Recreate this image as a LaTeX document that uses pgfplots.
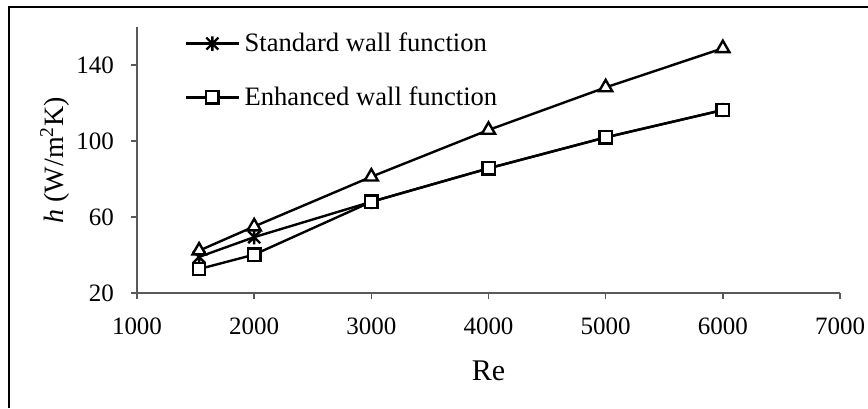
\documentclass[border=0pt]{standalone}
\usepackage{fontspec}
\setmainfont{Liberation Serif}
\usepackage{pgfplots}
\pgfplotsset{compat=1.18}
\pgfdeclareplotmark{xstar}{%
  \pgfpathmoveto{\pgfqpoint{-\pgfplotmarksize}{-\pgfplotmarksize}}%
  \pgfpathlineto{\pgfqpoint{\pgfplotmarksize}{\pgfplotmarksize}}%
  \pgfpathmoveto{\pgfqpoint{-\pgfplotmarksize}{\pgfplotmarksize}}%
  \pgfpathlineto{\pgfqpoint{\pgfplotmarksize}{-\pgfplotmarksize}}%
  \pgfpathmoveto{\pgfqpoint{0pt}{-1.2\pgfplotmarksize}}%
  \pgfpathlineto{\pgfqpoint{0pt}{1.2\pgfplotmarksize}}%
  \pgfusepathqstroke}
\pgfplotstableread{
Re std enh tri
1530 39.0 32.6 42.3
2000 49.4 40.2 55.0
3000 68.0 68.0 81.2
4000 85.6 85.6 105.8
5000 101.9 101.9 128.2
6000 116.3 116.3 148.8
}\datatable
\begin{document}
\begin{tikzpicture}
\useasboundingbox (-68.5pt,-57.5pt) rectangle (365.5pt,146.5pt);
\draw[line width=0.9pt] (-64pt,-57.5pt) -- (-64pt,143pt) -- (365.5pt,143pt);
\begin{axis}[
  at={(0pt,0pt)}, anchor=south west,
  scale only axis, width=351.5pt, height=133pt,
  xmin=1000, xmax=7000, ymin=20, ymax=160,
  xtick={1000,2000,...,7000}, ytick={20,60,100,140},
  axis x line*=bottom, axis y line*=left,
  axis line style={black!65, line width=0.7pt, -},
  tick style={black!65, line width=0.7pt},
  tick align=outside, major tick length=3pt,
  /pgf/number format/1000 sep={},
  /pgf/number format/assume math mode=true,
  ticklabel style={font=\fontsize{12.5}{14}\selectfont},
  xticklabel style={yshift=-6pt},
  yticklabel style={xshift=-5pt},
  xlabel={Re}, ylabel={\textit{h} (W/m\textsuperscript{2}K)},
  xlabel style={font=\fontsize{15}{17}\selectfont, at={(axis description cs:0.5,-0.292)}, anchor=center},
  ylabel style={font=\fontsize{14}{16}\selectfont, at={(axis description cs:-0.117,0.5)}, anchor=center},
  legend cell align=left,
  legend style={draw=none, fill=none, font=\fontsize{13.3}{15}\selectfont, row sep=12pt,
    at={(axis description cs:0.068,0.995)}, anchor=north west, inner sep=0pt},
  legend image code/.code={%
    \draw[#1, mark repeat=2, mark phase=2] plot coordinates {(0pt,0pt) (13pt,0pt) (26.5pt,0pt)};},
]
\addplot[black, line width=1.2pt, mark=xstar, mark size=3pt, mark options={solid, line width=1.2pt}] table[x=Re,y=std] {\datatable};
\addlegendentry{Standard wall function}
\addplot[black, line width=1.2pt, mark=square*, mark size=3.1pt, mark options={solid, fill=white, line width=1.2pt}] table[x=Re,y=enh] {\datatable};
\addlegendentry{Enhanced wall function}
\addplot[black, line width=1.2pt, mark=triangle*, mark size=3.8pt, mark options={solid, fill=white, line width=1.2pt}, forget plot] table[x=Re,y=tri] {\datatable};
\end{axis}
\end{tikzpicture}
\end{document}
